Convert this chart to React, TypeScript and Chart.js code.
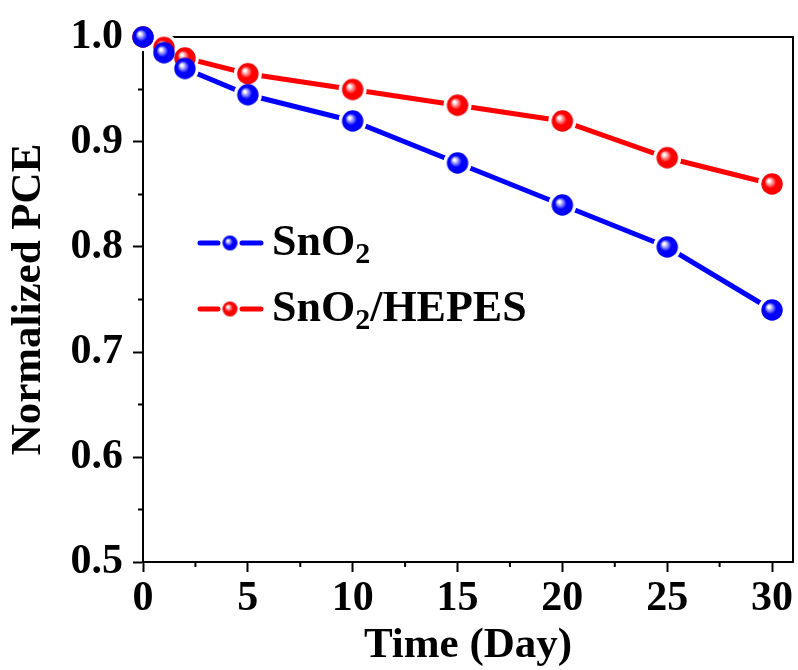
import { useEffect, useRef } from "react";
import { Chart, registerables } from "chart.js";

Chart.register(...registerables);

// ---- data ----
const DAYS = [0, 1, 2, 5, 10, 15, 20, 25, 30];
const SNO2 = [1.0, 0.985, 0.97, 0.945, 0.92, 0.88, 0.84, 0.8, 0.74];
const SNO2_HEPES = [1.0, 0.99, 0.98, 0.965, 0.95, 0.935, 0.92, 0.885, 0.86];
const SERIES_LABELS = ["SnO\u2082", "SnO\u2082/HEPES"];
const LEGEND_PARTS = [
  ["SnO", "2", ""],
  ["SnO", "2", "/HEPES"],
];
const X_MAJOR = [0, 5, 10, 15, 20, 25, 30];
const X_MINOR = [2.5, 7.5, 12.5, 17.5, 22.5, 27.5];
const Y_MAJOR = [0.5, 0.6, 0.7, 0.8, 0.9, 1.0];
const Y_MINOR = [0.55, 0.65, 0.75, 0.85, 0.95];
const X_TITLE = "Time (Day)";
const Y_TITLE = "Normalized PCE";

const BLUE = "#0000ff";
const RED = "#ff0000";
const FONT = "'Liberation Serif', 'Times New Roman', serif";

function sphere(color: string, mid: string, dark: string, r: number) {
  const s = Math.ceil(r * 2) + 2;
  const c = document.createElement("canvas");
  c.width = s;
  c.height = s;
  const ctx = c.getContext("2d")!;
  const cx = s / 2;
  const cy = s / 2;
  const g = ctx.createRadialGradient(cx - r * 0.33, cy - r * 0.33, 0, cx, cy, r);
  g.addColorStop(0, "#ffffff");
  g.addColorStop(0.1, "#ffffff");
  g.addColorStop(0.3, mid);
  g.addColorStop(0.55, color);
  g.addColorStop(0.9, color);
  g.addColorStop(1, dark);
  ctx.fillStyle = g;
  ctx.beginPath();
  ctx.arc(cx, cy, r, 0, Math.PI * 2);
  ctx.fill();
  return c;
}

export default function App() {
  const ref = useRef<HTMLCanvasElement | null>(null);

  useEffect(() => {
    const canvas = ref.current;
    if (!canvas) return;
    const blueBall = sphere(BLUE, "#9090ff", "#0000d0", 10.7);
    const redBall = sphere(RED, "#ff9090", "#d00000", 10.7);
    const blueSmall = sphere(BLUE, "#9090ff", "#0000d0", 7.5);
    const redSmall = sphere(RED, "#ff9090", "#d00000", 7.5);

    const pts = (ys: number[]) => DAYS.map((d, i) => ({ x: d, y: ys[i] }));

    const framePlugin = {
      id: "frame",
      beforeDatasetsDraw(chart: any) {
        const { ctx, chartArea, scales } = chart;
        const { left, right, top, bottom } = chartArea;
        ctx.save();
        ctx.strokeStyle = "#000";
        ctx.lineWidth = 2;
        ctx.beginPath();
        ctx.moveTo(left - 1, top);
        ctx.lineTo(right, top);
        ctx.lineTo(right, bottom + 1);
        X_MINOR.forEach((v) => {
          const px = scales.x.getPixelForValue(v);
          ctx.moveTo(px, bottom);
          ctx.lineTo(px, bottom + 5);
        });
        Y_MINOR.forEach((v) => {
          const py = scales.y.getPixelForValue(v);
          ctx.moveTo(left, py);
          ctx.lineTo(left - 5, py);
        });
        ctx.stroke();
        ctx.restore();
      },
      afterDraw(chart: any) {
        const { ctx, chartArea } = chart;
        const colors = [BLUE, RED];
        const balls = [blueSmall, redSmall];
        const x0 = chartArea.left + 55;
        ctx.save();
        LEGEND_PARTS.forEach((parts, i) => {
          const y = chartArea.top + 206 + i * 66;
          ctx.strokeStyle = colors[i];
          ctx.lineWidth = 5;
          ctx.lineCap = "round";
          ctx.beginPath();
          ctx.moveTo(x0 + 2, y);
          ctx.lineTo(x0 + 20, y);
          ctx.moveTo(x0 + 44, y);
          ctx.lineTo(x0 + 63, y);
          ctx.stroke();
          const b = balls[i];
          ctx.drawImage(b, x0 + 32 - b.width / 2, y - b.height / 2);
          ctx.fillStyle = "#000";
          ctx.textBaseline = "alphabetic";
          ctx.textAlign = "left";
          let tx = x0 + 74;
          ctx.font = `bold 44px ${FONT}`;
          ctx.fillText(parts[0], tx, y + 12);
          tx += ctx.measureText(parts[0]).width;
          ctx.font = `bold 30px ${FONT}`;
          ctx.fillText(parts[1], tx, y + 20);
          tx += ctx.measureText(parts[1]).width;
          ctx.font = `bold 44px ${FONT}`;
          if (parts[2]) ctx.fillText(parts[2], tx, y + 12);
        });
        ctx.restore();
      },
    };

    const chart = new Chart(canvas, {
      type: "line",
      data: {
        datasets: [
          {
            label: SERIES_LABELS[0],
            data: pts(SNO2),
            showLine: false,
            pointStyle: blueBall as any,
            pointRadius: 11,
            clip: false as any,
          },
          {
            label: SERIES_LABELS[1],
            data: pts(SNO2_HEPES),
            showLine: false,
            pointStyle: redBall as any,
            pointRadius: 11,
            clip: false as any,
          },
          {
            label: SERIES_LABELS[0] + " line",
            data: pts(SNO2),
            borderColor: BLUE,
            borderWidth: 5,
            borderCapStyle: "round",
            pointStyle: "circle",
            pointRadius: 14,
            pointBackgroundColor: "#ffffff",
            pointBorderWidth: 0,
            tension: 0,
            clip: false as any,
          },
          {
            label: SERIES_LABELS[1] + " line",
            data: pts(SNO2_HEPES),
            borderColor: RED,
            borderWidth: 5,
            borderCapStyle: "round",
            pointStyle: "circle",
            pointRadius: 14,
            pointBackgroundColor: "#ffffff",
            pointBorderWidth: 0,
            tension: 0,
            clip: false as any,
          },
        ],
      },
      options: {
        animation: false,
        responsive: false,
        events: [],
        layout: { autoPadding: false, padding: { top: 37, right: 5, left: 0, bottom: 0 } },
        plugins: {
          legend: { display: false },
          tooltip: { enabled: false },
        },
        scales: {
          x: {
            type: "linear",
            min: 0,
            max: 31,
            afterBuildTicks: (scale: any) => {
              scale.ticks = X_MAJOR.map((v) => ({ value: v }));
            },
            afterFit: (scale: any) => {
              scale.height = 108;
              scale.paddingLeft = 0;
              scale.paddingRight = 0;
            },
            ticks: {
              color: "#000",
              padding: 2,
              font: { family: FONT, size: 42, weight: "bold", lineHeight: 1.2 },
              callback: (v: any) => String(v),
              maxRotation: 0,
              autoSkip: false,
            },
            grid: {
              drawOnChartArea: false,
              drawTicks: true,
              tickLength: 10,
              tickWidth: 2,
              tickColor: "#000",
            },
            border: { display: true, color: "#000", width: 2 },
            title: {
              display: true,
              text: X_TITLE,
              color: "#000",
              font: { family: FONT, size: 43, weight: "bold", lineHeight: 1.1 },
              padding: { top: 0, bottom: 0 },
            },
          },
          y: {
            min: 0.5,
            max: 1.0,
            afterBuildTicks: (scale: any) => {
              scale.ticks = Y_MAJOR.map((v) => ({ value: v }));
            },
            afterFit: (scale: any) => {
              scale.width = 143;
              scale.paddingTop = 0;
              scale.paddingBottom = 0;
            },
            ticks: {
              color: "#000",
              padding: 10,
              font: { family: FONT, size: 42, weight: "bold", lineHeight: 1.2 },
              callback: (v: any) => Number(v).toFixed(1),
              autoSkip: false,
            },
            grid: {
              drawOnChartArea: false,
              drawTicks: true,
              tickLength: 10,
              tickWidth: 2,
              tickColor: "#000",
            },
            border: { display: true, color: "#000", width: 2 },
            title: {
              display: true,
              text: Y_TITLE,
              color: "#000",
              font: { family: FONT, size: 43, weight: "bold", lineHeight: 1.1 },
              padding: { top: 5, bottom: 0 },
            },
          },
        },
      } as any,
      plugins: [framePlugin],
    });
    return () => chart.destroy();
  }, []);

  return (
    <canvas
      ref={ref}
      width={798}
      height={670}
      style={{ position: "absolute", left: 0, top: 0, width: 798, height: 670, display: "block", background: "#fff" }}
    />
  );
}
